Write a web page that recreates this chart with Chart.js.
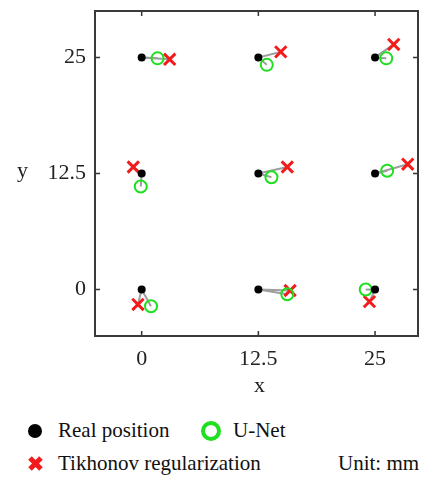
<!DOCTYPE html>
<html>
<head>
<meta charset="utf-8">
<script src="https://cdn.jsdelivr.net/npm/chart.js@4.4.1/dist/chart.umd.min.js"></script>
<style>
  body { margin: 0; background: #fff; overflow: hidden; font-family: "Liberation Serif", "Times New Roman", serif; }
  #wrap { position: relative; width: 422px; height: 477px; overflow: hidden; }
  #chart { position: absolute; left: 0; top: 0; }
  .lbl { position: absolute; font-size: 22px; color: #222; line-height: 1; white-space: nowrap; }
  .leg { position: absolute; font-size: 21px; color: #111; line-height: 1; white-space: nowrap; }
  .dot { position: absolute; width: 14px; height: 14px; border-radius: 50%; background: #000; }
  .ring { position: absolute; width: 12px; height: 12px; border-radius: 50%; border: 4px solid #1ee01e; }
</style>
</head>
<body>
<div id="wrap">
  <!-- a bit wider than the page: Chart.js keeps room for the last x label on the right -->
  <canvas id="chart" width="429" height="400"></canvas>
  <span class="lbl" style="left:17px; top:159px;">y</span>
  <span class="lbl" style="left:254px; top:374px;">x</span>

  <span class="dot" style="left:28px; top:424px;"></span>
  <span class="leg" style="left:58px; top:420px;">Real position</span>
  <span class="ring" style="left:201px; top:421px;"></span>
  <span class="leg" style="left:233px; top:420px;">U-Net</span>
  <svg style="position:absolute; left:27px; top:455px;" width="17" height="17">
    <path d="M3 3 L14 14 M14 3 L3 14" stroke="#f21c1c" stroke-width="5" />
  </svg>
  <span class="leg" style="left:58px; top:453px;">Tikhonov regularization</span>
  <span class="leg" style="left:338px; top:453px;">Unit: mm</span>
</div>
<script>
// real source positions and the two reconstructions (mm)
const realX = [0, 12.5, 25, 0, 12.5, 25, 0, 12.5, 25];
const realY = [25, 25, 25, 12.5, 12.5, 12.5, 0, 0, 0];
const unetX = [1.7, 13.4, 26.2, -0.1, 13.9, 26.3, 1.0, 15.6, 24.0];
const unetY = [24.9, 24.2, 24.9, 11.1, 12.1, 12.8, -1.8, -0.5, 0.0];
const tikX = [3.0, 14.9, 27.0, -0.9, 15.6, 28.5, -0.4, 15.9, 24.4];
const tikY = [24.8, 25.6, 26.4, 13.2, 13.2, 13.5, -1.6, -0.1, -1.3];
const xTicks = [0, 12.5, 25];
const yTicks = [0, 12.5, 25];

const pts = (xs, ys) => xs.map((x, i) => ({ x: x, y: ys[i] }));

const datasets = [
    {
        label: 'Real position',
        data: pts(realX, realY),
        pointStyle: 'circle',
        pointRadius: 4,
        backgroundColor: '#000',
        borderColor: '#000',
        borderWidth: 0,
        order: 0
    },
    {
        label: 'U-Net',
        data: pts(unetX, unetY),
        pointStyle: 'circle',
        pointRadius: 6,
        backgroundColor: 'rgba(0,0,0,0)',
        borderColor: '#1ee01e',
        borderWidth: 2,
        order: 1
    },
    {
        label: 'Tikhonov regularization',
        data: pts(tikX, tikY),
        pointStyle: 'crossRot',
        pointRadius: 8,
        borderColor: '#f21c1c',
        borderWidth: 3,
        order: 2
    }
];

// gray connectors from each real position to its estimates
realX.forEach((x, i) => {
    [[unetX, unetY], [tikX, tikY]].forEach(([ex, ey]) => {
        datasets.push({
            data: [{ x: x, y: realY[i] }, { x: ex[i], y: ey[i] }],
            showLine: true,
            pointRadius: 0,
            borderColor: '#9e9e9e',
            borderWidth: 2,
            order: 5
        });
    });
});

const frame = {
    id: 'frame',
    afterDraw(chart) {
        const ctx = chart.ctx;
        const a = chart.chartArea;
        const sx = chart.scales.x, sy = chart.scales.y;
        const len = 5;
        ctx.save();
        ctx.strokeStyle = '#333';
        ctx.lineWidth = 1.5;
        ctx.beginPath();
        xTicks.forEach(v => {
            const px = sx.getPixelForValue(v);
            ctx.moveTo(px, a.bottom); ctx.lineTo(px, a.bottom - len);
            ctx.moveTo(px, a.top); ctx.lineTo(px, a.top + len);
        });
        yTicks.forEach(v => {
            const py = sy.getPixelForValue(v);
            ctx.moveTo(a.left, py); ctx.lineTo(a.left + len, py);
            ctx.moveTo(a.right, py); ctx.lineTo(a.right - len, py);
        });
        ctx.stroke();
        ctx.lineWidth = 2;
        ctx.strokeStyle = '#3a3a3a';
        ctx.strokeRect(a.left, a.top, a.right - a.left, a.bottom - a.top);
        ctx.restore();
    }
};

const tickFont = { family: '"Liberation Serif", "Times New Roman", serif', size: 22 };

// no extra room for overhanging tick labels
const noPad = s => { s.paddingLeft = 0; s.paddingRight = 0; s.paddingTop = 0; s.paddingBottom = 0; };

new Chart(document.getElementById('chart').getContext('2d'), {
    type: 'scatter',
    data: { datasets: datasets },
    options: {
        responsive: false,
        animation: false,
        layout: { padding: { left: 0, top: 10, right: 4, bottom: 0 } },
        plugins: { legend: { display: false }, tooltip: { enabled: false } },
        scales: {
            x: {
                type: 'linear',
                min: -5,
                max: 29.6,
                afterBuildTicks: s => { s.ticks = xTicks.map(v => ({ value: v })); },
                afterFit: s => { s.height = 64; noPad(s); },
                ticks: { font: tickFont, color: '#222', padding: 10, maxRotation: 0 },
                grid: { display: false, drawTicks: false },
                border: { display: false }
            },
            y: {
                type: 'linear',
                min: -5,
                max: 30,
                afterBuildTicks: s => { s.ticks = yTicks.map(v => ({ value: v })); },
                afterFit: s => { s.width = 95; noPad(s); },
                ticks: { font: tickFont, color: '#222', padding: 9 },
                grid: { display: false, drawTicks: false },
                border: { display: false }
            }
        }
    },
    plugins: [frame]
});
</script>
</body>
</html>
